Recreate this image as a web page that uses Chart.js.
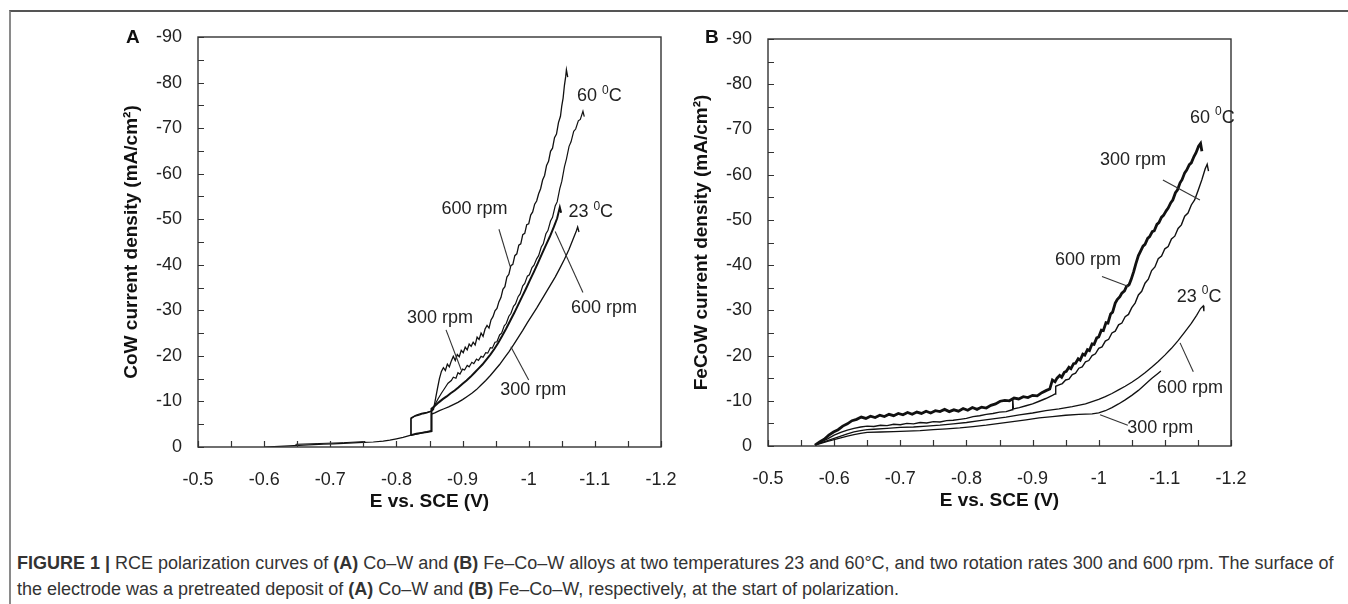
<!DOCTYPE html>
<html><head><meta charset="utf-8">
<script src="https://cdn.jsdelivr.net/npm/chart.js@4.4.0/dist/chart.umd.min.js"></script>
<style>
html,body{margin:0;padding:0;background:#fff;}
body{width:1348px;height:604px;position:relative;overflow:hidden;font-family:"Liberation Sans",Arial,sans-serif;}
#frame{position:absolute;left:9px;top:10px;width:1345px;height:600px;border-top:2px solid #555;border-left:2px solid #8a8a8a;}
#wa{position:absolute;left:0;top:0;}
#wb{position:absolute;left:680px;top:0;}
.plet{position:absolute;font-weight:bold;font-size:19px;color:#111;}
#cap{position:absolute;left:17px;top:550px;font-size:18px;line-height:26px;color:#333;white-space:nowrap;}
</style></head>
<body>
<div id="frame"></div>
<canvas id="wa" width="680" height="530"></canvas>
<canvas id="wb" width="668" height="530"></canvas>
<div class="plet" style="left:126px;top:26px;">A</div>
<div class="plet" style="left:705px;top:26px;">B</div>
<div id="cap"><b>FIGURE 1 |</b> RCE polarization curves of <b>(A)</b> Co–W and <b>(B)</b> Fe–Co–W alloys at two temperatures 23 and 60°C, and two rotation rates 300 and 600 rpm. The surface of<br>the electrode was a pretreated deposit of <b>(A)</b> Co–W and <b>(B)</b> Fe–Co–W, respectively, at the start of polarization.</div>
<script>
// ---------- axis tick values ----------
const xTickMin = -1.2, xTickMax = -0.5, xTickStep = 0.05;
const yTickMin = -90, yTickMax = 0, yTickStep = 5;

// ---------- Panel A: Co-W  (E [V], j [mA/cm2]) ----------
const aBase = [[-0.600,0],[-0.615,-0.1],[-0.630,-0.2],[-0.645,-0.3],[-0.660,-0.4],[-0.675,-0.5],[-0.690,-0.6],[-0.705,-0.7],[-0.720,-0.8],[-0.735,-0.9],[-0.750,-1.0],[-0.765,-1.1],[-0.780,-1.3],[-0.790,-1.5],[-0.800,-1.8],[-0.810,-2.1],[-0.822,-2.6]];
const aBaseLoop = [[-0.648,-0.25],[-0.648,-0.6],[-0.680,-0.75],[-0.720,-0.95],[-0.752,-1.2],[-0.752,-0.9]];
const a60r600 = [[-0.822,-2.6],[-0.822,-6.2],[-0.828,-6.8],[-0.834,-7.0],[-0.840,-7.3],[-0.846,-7.5],[-0.852,-7.8],[-0.856,-8.2],[-0.859,-10.5],[-0.862,-12.8],[-0.865,-15.0],[-0.868,-16.6],[-0.871,-17.4],[-0.874,-16.8],[-0.877,-18.2],[-0.880,-17.6],[-0.883,-18.9],[-0.886,-19.9],[-0.889,-19.0],[-0.892,-20.3],[-0.895,-19.8],[-0.898,-21.2],[-0.901,-20.7],[-0.904,-21.9],[-0.907,-21.3],[-0.910,-22.6],[-0.913,-22.1],[-0.916,-23.0],[-0.919,-22.4],[-0.922,-24.1],[-0.925,-23.6],[-0.928,-25.0],[-0.931,-24.3],[-0.934,-25.9],[-0.937,-26.7],[-0.940,-26.1],[-0.943,-27.9],[-0.946,-28.6],[-0.949,-29.9],[-0.952,-30.4],[-0.955,-31.9],[-0.958,-32.8],[-0.961,-34.6],[-0.964,-35.2],[-0.967,-37.3],[-0.970,-37.9],[-0.973,-39.8],[-0.976,-40.1],[-0.979,-42.0],[-0.982,-42.4],[-0.985,-44.3],[-0.988,-44.6],[-0.991,-46.6],[-0.994,-46.9],[-0.997,-48.8],[-1.000,-49.0],[-1.003,-50.9],[-1.006,-51.6],[-1.009,-53.3],[-1.012,-54.0],[-1.015,-55.6],[-1.018,-56.7],[-1.021,-58.6],[-1.024,-59.6],[-1.027,-61.8],[-1.030,-62.7],[-1.033,-64.9],[-1.036,-65.6],[-1.039,-67.9],[-1.042,-68.7],[-1.045,-71.2],[-1.048,-72.6],[-1.050,-74.9],[-1.052,-76.6],[-1.054,-79.4],[-1.056,-81.4],[-1.057,-82.8],[-1.059,-81.2]];
const a60r300 = [[-0.822,-2.6],[-0.822,-6.4],[-0.830,-7.0],[-0.838,-7.4],[-0.846,-7.6],[-0.853,-7.9],[-0.858,-9.2],[-0.863,-10.6],[-0.868,-11.8],[-0.873,-12.9],[-0.878,-14.0],[-0.883,-14.6],[-0.886,-15.3],[-0.890,-15.1],[-0.893,-16.3],[-0.896,-16.0],[-0.900,-17.1],[-0.903,-16.9],[-0.907,-17.9],[-0.910,-17.6],[-0.914,-18.6],[-0.917,-18.3],[-0.921,-19.3],[-0.924,-19.0],[-0.928,-19.9],[-0.931,-19.7],[-0.935,-20.7],[-0.938,-20.6],[-0.942,-21.8],[-0.945,-21.7],[-0.949,-23.0],[-0.952,-23.1],[-0.956,-24.6],[-0.959,-25.0],[-0.963,-26.6],[-0.966,-27.1],[-0.970,-28.7],[-0.973,-29.3],[-0.977,-30.9],[-0.980,-31.4],[-0.984,-33.0],[-0.987,-33.6],[-0.991,-35.4],[-0.994,-35.9],[-0.998,-37.5],[-1.001,-37.8],[-1.005,-39.4],[-1.008,-39.9],[-1.012,-41.3],[-1.015,-42.0],[-1.019,-43.9],[-1.022,-44.6],[-1.026,-46.8],[-1.029,-47.5],[-1.033,-49.6],[-1.036,-50.4],[-1.040,-52.9],[-1.043,-53.8],[-1.047,-56.7],[-1.050,-58.3],[-1.054,-61.5],[-1.057,-63.2],[-1.061,-66.0],[-1.064,-67.0],[-1.068,-69.3],[-1.071,-69.8],[-1.075,-71.6],[-1.078,-71.9],[-1.082,-73.7],[-1.084,-72.5]];
const a23r600 = [[-0.822,-2.6],[-0.830,-2.9],[-0.838,-3.1],[-0.846,-3.3],[-0.853,-3.5],[-0.853,-8.4],[-0.858,-9.0],[-0.864,-9.8],[-0.870,-10.5],[-0.876,-11.1],[-0.882,-11.8],[-0.888,-12.4],[-0.894,-13.1],[-0.900,-13.9],[-0.906,-14.6],[-0.912,-15.4],[-0.918,-16.3],[-0.924,-17.2],[-0.930,-18.1],[-0.936,-19.2],[-0.942,-20.3],[-0.948,-21.5],[-0.954,-22.9],[-0.960,-24.4],[-0.966,-26.0],[-0.972,-27.7],[-0.978,-29.4],[-0.984,-31.2],[-0.990,-33.0],[-0.996,-34.8],[-1.002,-36.7],[-1.008,-38.5],[-1.014,-40.4],[-1.020,-42.4],[-1.026,-44.3],[-1.032,-46.2],[-1.038,-48.3],[-1.043,-50.2],[-1.047,-52.6],[-1.049,-51.4]];
const a23r300 = [[-0.822,-2.6],[-0.832,-2.9],[-0.842,-3.2],[-0.853,-3.5],[-0.853,-7.2],[-0.858,-7.5],[-0.865,-8.0],[-0.872,-8.4],[-0.879,-8.8],[-0.886,-9.3],[-0.893,-9.8],[-0.900,-10.4],[-0.907,-11.1],[-0.914,-11.8],[-0.921,-12.6],[-0.928,-13.6],[-0.935,-14.6],[-0.942,-15.7],[-0.949,-16.9],[-0.956,-18.1],[-0.963,-19.5],[-0.970,-20.9],[-0.977,-22.4],[-0.984,-24.0],[-0.991,-25.6],[-0.998,-27.3],[-1.005,-28.9],[-1.012,-30.5],[-1.019,-32.2],[-1.026,-33.9],[-1.033,-35.6],[-1.040,-37.3],[-1.047,-39.2],[-1.054,-41.2],[-1.061,-43.4],[-1.067,-45.6],[-1.072,-47.4],[-1.074,-48.3],[-1.076,-47.2]];

// ---------- Panel B: Fe-Co-W ----------
const b60r600 = [[-0.571,-0.2],[-0.578,-0.9],[-0.585,-1.5],[-0.592,-2.4],[-0.599,-3.1],[-0.606,-3.6],[-0.613,-4.4],[-0.620,-4.9],[-0.627,-5.6],[-0.634,-5.9],[-0.641,-6.4],[-0.648,-6.1],[-0.655,-6.6],[-0.662,-6.3],[-0.669,-6.8],[-0.676,-6.5],[-0.683,-7.0],[-0.690,-6.7],[-0.697,-7.2],[-0.704,-6.9],[-0.711,-7.4],[-0.718,-7.0],[-0.725,-7.5],[-0.732,-7.2],[-0.739,-7.7],[-0.746,-7.3],[-0.753,-7.8],[-0.760,-7.6],[-0.767,-8.1],[-0.774,-7.6],[-0.781,-8.0],[-0.788,-7.7],[-0.795,-8.3],[-0.802,-7.9],[-0.809,-8.5],[-0.816,-8.1],[-0.823,-8.6],[-0.830,-8.4],[-0.837,-9.0],[-0.844,-9.3],[-0.851,-9.9],[-0.858,-10.1],[-0.865,-10.0],[-0.872,-10.6],[-0.879,-10.4],[-0.886,-10.9],[-0.893,-10.7],[-0.900,-11.2],[-0.907,-11.1],[-0.914,-11.8],[-0.921,-12.3],[-0.926,-12.6],[-0.930,-14.6],[-0.934,-14.2],[-0.937,-15.0],[-0.941,-15.6],[-0.944,-15.2],[-0.948,-16.3],[-0.951,-16.5],[-0.955,-17.4],[-0.958,-17.1],[-0.962,-18.2],[-0.965,-18.3],[-0.969,-19.3],[-0.972,-19.0],[-0.976,-20.3],[-0.979,-20.1],[-0.983,-21.3],[-0.986,-21.1],[-0.990,-22.6],[-0.993,-22.5],[-0.997,-23.9],[-1.000,-24.1],[-1.004,-25.6],[-1.007,-25.5],[-1.011,-27.3],[-1.014,-27.2],[-1.018,-29.2],[-1.021,-29.6],[-1.025,-31.6],[-1.028,-32.4],[-1.032,-33.0],[-1.035,-33.8],[-1.039,-34.3],[-1.042,-35.3],[-1.046,-35.7],[-1.049,-36.8],[-1.053,-38.6],[-1.056,-40.2],[-1.060,-42.1],[-1.063,-43.0],[-1.067,-44.2],[-1.070,-44.6],[-1.074,-45.9],[-1.077,-46.3],[-1.081,-47.4],[-1.084,-47.6],[-1.088,-49.0],[-1.091,-49.4],[-1.095,-50.6],[-1.098,-51.0],[-1.102,-52.0],[-1.105,-52.6],[-1.109,-53.8],[-1.112,-54.4],[-1.116,-56.0],[-1.119,-56.6],[-1.123,-58.2],[-1.126,-58.9],[-1.130,-60.4],[-1.133,-61.0],[-1.137,-62.2],[-1.140,-62.6],[-1.144,-64.0],[-1.147,-64.8],[-1.151,-66.3],[-1.154,-66.9],[-1.156,-65.2]];
const b60r300 = [[-0.571,-0.2],[-0.580,-0.9],[-0.590,-1.6],[-0.600,-2.4],[-0.610,-3.0],[-0.620,-3.5],[-0.630,-3.9],[-0.640,-4.2],[-0.650,-4.4],[-0.660,-4.3],[-0.670,-4.6],[-0.680,-4.5],[-0.690,-4.8],[-0.700,-4.7],[-0.710,-5.0],[-0.720,-4.9],[-0.730,-5.2],[-0.740,-5.1],[-0.750,-5.4],[-0.760,-5.3],[-0.770,-5.6],[-0.780,-5.7],[-0.790,-5.9],[-0.800,-6.1],[-0.810,-6.5],[-0.820,-6.7],[-0.830,-7.0],[-0.840,-7.2],[-0.850,-7.5],[-0.860,-7.6],[-0.869,-8.0],[-0.870,-10.6],[-0.871,-8.2],[-0.880,-8.5],[-0.890,-8.9],[-0.900,-9.3],[-0.910,-9.9],[-0.920,-10.5],[-0.930,-11.2],[-0.934,-11.5],[-0.935,-13.2],[-0.940,-13.5],[-0.945,-13.8],[-0.950,-14.6],[-0.955,-14.8],[-0.960,-15.8],[-0.965,-16.1],[-0.970,-17.2],[-0.975,-17.5],[-0.980,-18.6],[-0.985,-18.9],[-0.990,-20.0],[-0.995,-20.4],[-1.000,-21.6],[-1.005,-21.9],[-1.010,-23.2],[-1.015,-23.6],[-1.020,-25.0],[-1.025,-25.4],[-1.030,-26.8],[-1.035,-27.2],[-1.040,-28.6],[-1.045,-29.1],[-1.050,-30.6],[-1.055,-31.6],[-1.060,-33.4],[-1.065,-34.2],[-1.070,-36.0],[-1.075,-36.9],[-1.080,-38.8],[-1.085,-39.6],[-1.090,-41.4],[-1.095,-42.0],[-1.100,-43.6],[-1.105,-44.1],[-1.110,-45.8],[-1.115,-46.4],[-1.120,-48.1],[-1.125,-48.9],[-1.130,-50.8],[-1.135,-51.5],[-1.140,-53.3],[-1.145,-54.4],[-1.150,-56.4],[-1.156,-58.9],[-1.161,-61.3],[-1.164,-62.3],[-1.166,-60.8]];
const b23r600 = [[-0.571,-0.2],[-0.580,-0.7],[-0.590,-1.2],[-0.600,-1.7],[-0.610,-2.2],[-0.620,-2.7],[-0.630,-3.1],[-0.640,-3.4],[-0.650,-3.6],[-0.660,-3.7],[-0.680,-3.9],[-0.700,-4.1],[-0.720,-4.2],[-0.740,-4.4],[-0.760,-4.6],[-0.780,-4.9],[-0.800,-5.2],[-0.820,-5.6],[-0.840,-6.0],[-0.860,-6.4],[-0.880,-6.9],[-0.900,-7.3],[-0.920,-7.8],[-0.940,-8.2],[-0.960,-8.7],[-0.980,-9.3],[-0.990,-9.8],[-1.000,-10.3],[-1.010,-10.9],[-1.020,-11.6],[-1.030,-12.4],[-1.040,-13.2],[-1.050,-14.1],[-1.060,-15.1],[-1.070,-16.2],[-1.080,-17.4],[-1.090,-18.7],[-1.100,-20.1],[-1.110,-21.6],[-1.120,-23.3],[-1.130,-25.2],[-1.140,-27.1],[-1.148,-28.9],[-1.154,-30.4],[-1.158,-31.0],[-1.159,-29.8]];
const b23r300 = [[-0.571,-0.2],[-0.580,-0.6],[-0.590,-1.0],[-0.600,-1.4],[-0.610,-1.8],[-0.620,-2.2],[-0.630,-2.5],[-0.640,-2.8],[-0.650,-3.0],[-0.670,-3.1],[-0.690,-3.2],[-0.710,-3.3],[-0.730,-3.4],[-0.750,-3.6],[-0.770,-3.8],[-0.790,-4.0],[-0.810,-4.3],[-0.830,-4.6],[-0.850,-5.0],[-0.870,-5.4],[-0.890,-5.8],[-0.910,-6.2],[-0.930,-6.5],[-0.950,-6.8],[-0.970,-7.0],[-0.990,-7.1],[-1.000,-7.3],[-1.010,-7.8],[-1.020,-8.5],[-1.030,-9.3],[-1.040,-10.2],[-1.050,-11.2],[-1.060,-12.3],[-1.070,-13.6],[-1.080,-14.9],[-1.090,-16.1],[-1.094,-16.6]];

// ---------- annotation texts (anchored in data units) ----------
const aLabels = [
  {x:-1.073, y:-77.0, parts:[['60 ',0],['0',1],['C',0]]},
  {x:-0.868, y:-52.2, parts:[['600 rpm',0]]},
  {x:-1.060, y:-51.5, parts:[['23 ',0],['0',1],['C',0]]},
  {x:-1.064, y:-30.4, parts:[['600 rpm',0]]},
  {x:-0.816, y:-28.4, parts:[['300 rpm',0]]},
  {x:-0.957, y:-12.5, parts:[['300 rpm',0]]}
];
const aLeaders = [[-0.955,-47.8,-0.972,-39.6],[-1.040,-47.3,-1.082,-33.9],[-0.875,-25.7,-0.898,-16.9],[-0.973,-22.0,-1.000,-14.7]];
const bLabels = [
  {x:-1.138, y:-72.5, parts:[['60 ',0],['0',1],['C',0]]},
  {x:-1.002, y:-63.3, parts:[['300 rpm',0]]},
  {x:-0.934, y:-41.2, parts:[['600 rpm',0]]},
  {x:-1.118, y:-33.0, parts:[['23 ',0],['0',1],['C',0]]},
  {x:-1.088, y:-12.8, parts:[['600 rpm',0]]},
  {x:-1.043, y:-4.0, parts:[['300 rpm',0]]}
];
const bLeaders = [[-1.097,-58.8,-1.153,-54.4],[-1.005,-37.5,-1.046,-35.2],[-1.143,-16.4,-1.123,-22.8],[-1.002,-6.9,-1.044,-4.6]];

const FONT = '"Liberation Sans", Arial, sans-serif';
Chart.defaults.font.family = FONT;
Chart.defaults.color = '#222';

const decor = {
  id: 'decor',
  afterDatasetsDraw(chart, args, opts) {
    const {ctx, chartArea: a, scales: {x, y}} = chart;
    ctx.save();
    ctx.strokeStyle = '#333';
    ctx.lineWidth = 1.4;
    ctx.strokeRect(a.left, a.top, a.right - a.left, a.bottom - a.top);
    ctx.beginPath();
    x.ticks.forEach(t => { const p = Math.round(x.getPixelForValue(t.value)) + 0.5; ctx.moveTo(p, a.bottom); ctx.lineTo(p, a.bottom - 6); });
    y.ticks.forEach(t => { const p = Math.round(y.getPixelForValue(t.value)) + 0.5; ctx.moveTo(a.left, p); ctx.lineTo(a.left + 6, p); });
    ctx.lineWidth = 1.2;
    ctx.stroke();
    ctx.strokeStyle = '#333';
    ctx.lineWidth = 1.1;
    (opts.leaders || []).forEach(l => {
      ctx.beginPath();
      ctx.moveTo(x.getPixelForValue(l[0]), y.getPixelForValue(l[1]));
      ctx.lineTo(x.getPixelForValue(l[2]), y.getPixelForValue(l[3]));
      ctx.stroke();
    });
    ctx.fillStyle = '#222';
    ctx.textBaseline = 'middle';
    ctx.textAlign = 'left';
    (opts.labels || []).forEach(lb => {
      let cx = x.getPixelForValue(lb.x);
      const cy = y.getPixelForValue(lb.y);
      lb.parts.forEach(([t, sup]) => {
        ctx.font = (sup ? '12px ' : '18px ') + FONT;
        ctx.fillText(t, cx, sup ? cy - 6 : cy);
        cx += ctx.measureText(t).width;
      });
    });
    ctx.restore();
  }
};

function ds(pairs, w) {
  return {data: pairs.map(([e, j]) => ({x: e, y: j})), showLine: true, borderColor: '#111', borderWidth: w, pointRadius: 0, tension: 0, fill: false};
}

function makeChart(id, datasets, yTitle, pad, yW, titlePadTop, labels, leaders) {
  return new Chart(document.getElementById(id), {
    type: 'scatter',
    data: {datasets},
    plugins: [decor],
    options: {
      responsive: false, animation: false,
      layout: {padding: pad},
      plugins: {legend: {display: false}, tooltip: {enabled: false}, decor: {labels, leaders}},
      scales: {
        x: {
          type: 'linear', reverse: true, min: xTickMin, max: xTickMax,
          grid: {display: false, drawTicks: false},
          border: {display: false},
          ticks: {stepSize: xTickStep, autoSkip: false, maxRotation: 0, padding: 22, color: '#222', font: {size: 18},
            callback: v => (Math.abs(v * 10 - Math.round(v * 10)) < 1e-6 ? String(Number(v.toFixed(1))) : '')},
          title: {display: true, text: 'E vs. SCE (V)', color: '#111', font: {size: 19, weight: 'bold'}, padding: {top: 0, bottom: 0}},
          afterFit: s => { s.height = 66; s.paddingLeft = 0; s.paddingRight = 0; }
        },
        y: {
          type: 'linear', reverse: true, min: yTickMin, max: yTickMax,
          grid: {display: false, drawTicks: false},
          border: {display: false},
          ticks: {stepSize: yTickStep, autoSkip: false, padding: 16, color: '#222', font: {size: 18},
            callback: v => (Math.abs(v / 10 - Math.round(v / 10)) < 1e-6 ? String(Math.round(v)) : '')},
          title: {display: true, text: yTitle, color: '#111', font: {size: 19, weight: 'bold'}, padding: {top: titlePadTop, bottom: 0}},
          afterFit: s => { s.width = yW; s.paddingTop = 0; s.paddingBottom = 0; }
        }
      }
    }
  });
}

makeChart('wa',
  [ds(aBase, 1.2), ds(aBaseLoop, 1.0), ds(a60r600, 1.3), ds(a60r300, 1.2), ds(a23r600, 2.0), ds(a23r300, 1.3)],
  'CoW current density (mA/cm²)',
  {left: 100, right: 19, top: 37, bottom: 17}, 98, 20, aLabels, aLeaders);

makeChart('wb',
  [ds(b60r600, 2.8), ds(b60r300, 1.4), ds(b23r600, 1.3), ds(b23r300, 1.3)],
  'FeCoW current density (mA/cm²)',
  {left: 0, right: 117, top: 39, bottom: 18}, 88, 10, bLabels, bLeaders);
</script>
</body></html>
